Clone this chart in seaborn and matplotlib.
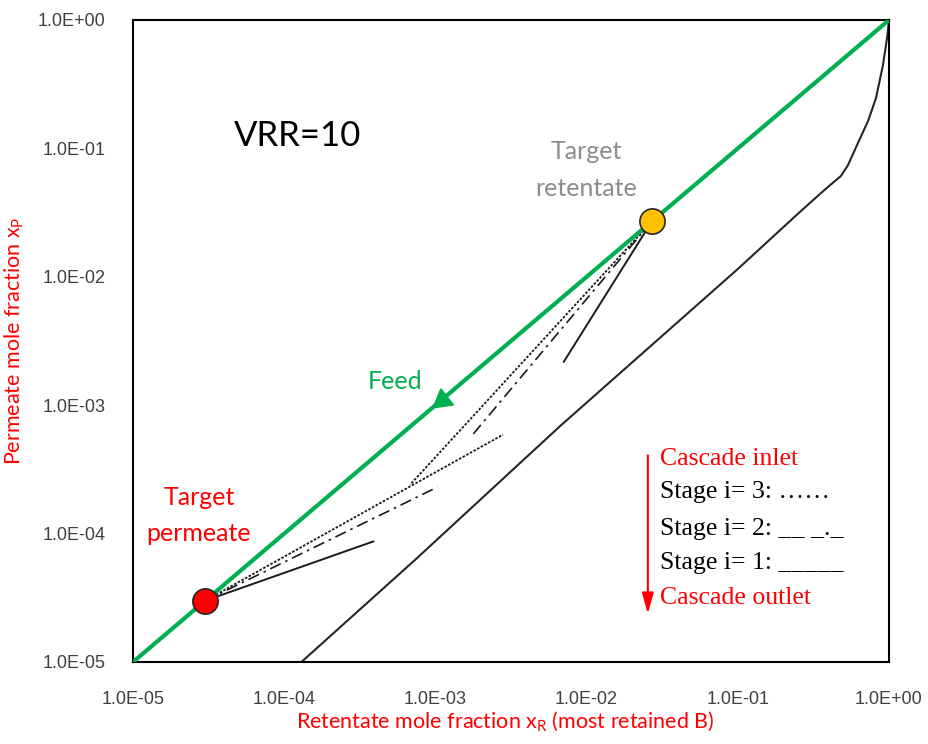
import matplotlib
matplotlib.use("Agg")
import matplotlib.pyplot as plt
import seaborn as sns
import pandas as pd
from matplotlib.ticker import FixedLocator, FuncFormatter, NullLocator

# ---------------- data ----------------
feed_x = [1e-5, 1.0]
feed_y = [1e-5, 1.0]

eq_x = [1.3e-4, 7.4e-4, 6.7e-3, 0.1, 0.25, 0.318, 0.394, 0.481, 0.535, 0.623, 0.726, 0.82, 0.912, 0.97, 1.0]
eq_y = [1.0e-5, 6.3e-5, 6.9e-4, 1.15e-2, 0.031, 0.040, 0.050, 0.061, 0.074, 0.110, 0.163, 0.246, 0.445, 0.72, 1.0]

permeate_x, permeate_y = [3.0e-5], [3.0e-5]
retentate_x, retentate_y = [2.7e-2], [2.7e-2]

stage_names = ["Stage 1", "Stage 2", "Stage 3"]
stage_perm_end_x = [3.9e-4, 1.03e-3, 2.8e-3]
stage_perm_end_y = [8.7e-5, 2.3e-4, 5.9e-4]
stage_ret_end_x = [7.05e-3, 1.7e-3, 6.8e-4]
stage_ret_end_y = [2.17e-3, 5.6e-4, 2.4e-4]

feed_arrow_x, feed_arrow_y = [1.1e-3], [1.1e-3]

tick_values = [1e-5, 1e-4, 1e-3, 1e-2, 1e-1, 1e0]

legend_lines = ["Cascade inlet", "Stage i= 3: \u2026\u2026", "Stage i= 2: __ _._",
                "Stage i= 1: _____", "Cascade outlet"]

# ---------------- styling ----------------
sns.set_style("white")
plt.rcParams["font.family"] = ["Liberation Sans", "DejaVu Sans"]

GREEN = "#00b050"
stage_styles = {
    "Stage 1": dict(linestyle="-", lw=1.4),
    "Stage 2": dict(linestyle=(0, (7, 3, 1.5, 3)), lw=1.2),
    "Stage 3": dict(linestyle=(0, (1.4, 0.9)), lw=1.3),
}

fig = plt.figure(figsize=(9.29, 7.44), dpi=100)
ax = fig.add_axes([133 / 929, 82 / 744, 756 / 929, 642 / 744])
ax.set_xscale("log")
ax.set_yscale("log")

# equilibrium curve
sns.lineplot(x=eq_x, y=eq_y, ax=ax, color="#262626", lw=1.5, sort=False, zorder=2)

# stage operating lines
for i, name in enumerate(stage_names):
    st = stage_styles[name]
    sns.lineplot(x=[permeate_x[0], stage_perm_end_x[i]], y=[permeate_y[0], stage_perm_end_y[i]],
                 ax=ax, color="#1a1a1a", sort=False, zorder=3, **st)
    sns.lineplot(x=[retentate_x[0], stage_ret_end_x[i]], y=[retentate_y[0], stage_ret_end_y[i]],
                 ax=ax, color="#1a1a1a", sort=False, zorder=3, **st)

# feed diagonal
sns.lineplot(x=feed_x, y=feed_y, ax=ax, color=GREEN, lw=3, sort=False, zorder=4)
ax.plot(feed_arrow_x, feed_arrow_y, marker=(3, 0, 128), ms=17, color=GREEN,
        linestyle="none", zorder=5)

# targets
sns.scatterplot(x=permeate_x, y=permeate_y, ax=ax, color="#ff0000", s=330,
                edgecolor="#262626", linewidth=1.2, zorder=6)
sns.scatterplot(x=retentate_x, y=retentate_y, ax=ax, color="#ffc000", s=330,
                edgecolor="#262626", linewidth=1.2, zorder=6)

ax.set_xlim(1e-5, 1.0)
ax.set_ylim(1e-5, 1.0)

fmt = FuncFormatter(lambda v, p: f"{v:.1E}")
for axis in (ax.xaxis, ax.yaxis):
    axis.set_major_locator(FixedLocator(tick_values))
    axis.set_minor_locator(NullLocator())
    axis.set_major_formatter(fmt)
ax.tick_params(axis="both", length=0, labelsize=13, labelcolor="#404040")
ax.tick_params(axis="y", pad=20)
ax.tick_params(axis="x", pad=21)

for s in ax.spines.values():
    s.set_color("black")
    s.set_linewidth(1.5)

lab_font = ["Lato", "DejaVu Sans"]
ax.set_xlabel(r"Retentate mole fraction x$_{\mathregular{R}}$ (most retained B)",
              color="red", fontsize=15.5, family=lab_font)
ax.set_ylabel(r"Permeate mole fraction x$_{\mathregular{P}}$",
              color="red", fontsize=15.5, family=lab_font)
ax.xaxis.set_label_coords(0.492, -0.074)
ax.yaxis.set_label_coords(-0.142, 0.5)

# annotations
ax.text(1.22e-4, 0.126, "VRR=10", fontsize=25, family=lab_font, color="black",
        ha="center", va="center")
ax.text(1.0e-2, 0.068, "Target\nretentate", fontsize=18, family=lab_font, color="#8c8c8c",
        ha="center", va="center", linespacing=1.7)
ax.text(5.4e-4, 1.54e-3, "Feed", fontsize=18, family=lab_font, color=GREEN,
        ha="center", va="center")
ax.text(2.73e-5, 1.38e-4, "Target\npermeate", fontsize=18, family=lab_font, color="red",
        ha="center", va="center", linespacing=1.7)

# legend block
serif = ["Liberation Serif", "DejaVu Serif"]
leg_y = [0.316, 0.265, 0.207, 0.154, 0.0997]
leg_c = ["red", "black", "black", "black", "red"]
for txt, yy, cc in zip(legend_lines, leg_y, leg_c):
    ax.text(0.697, yy, txt, transform=ax.transAxes, fontsize=18.5, family=serif,
            color=cc, ha="left", va="center")
ax.annotate("", xy=(0.681, 0.075), xytext=(0.681, 0.322), xycoords="axes fraction",
            arrowprops=dict(arrowstyle="-|>,head_width=0.25,head_length=0.9", color="red",
                            lw=1.5, mutation_scale=14, shrinkA=0, shrinkB=0))

fig.savefig("out.png", dpi=100)
